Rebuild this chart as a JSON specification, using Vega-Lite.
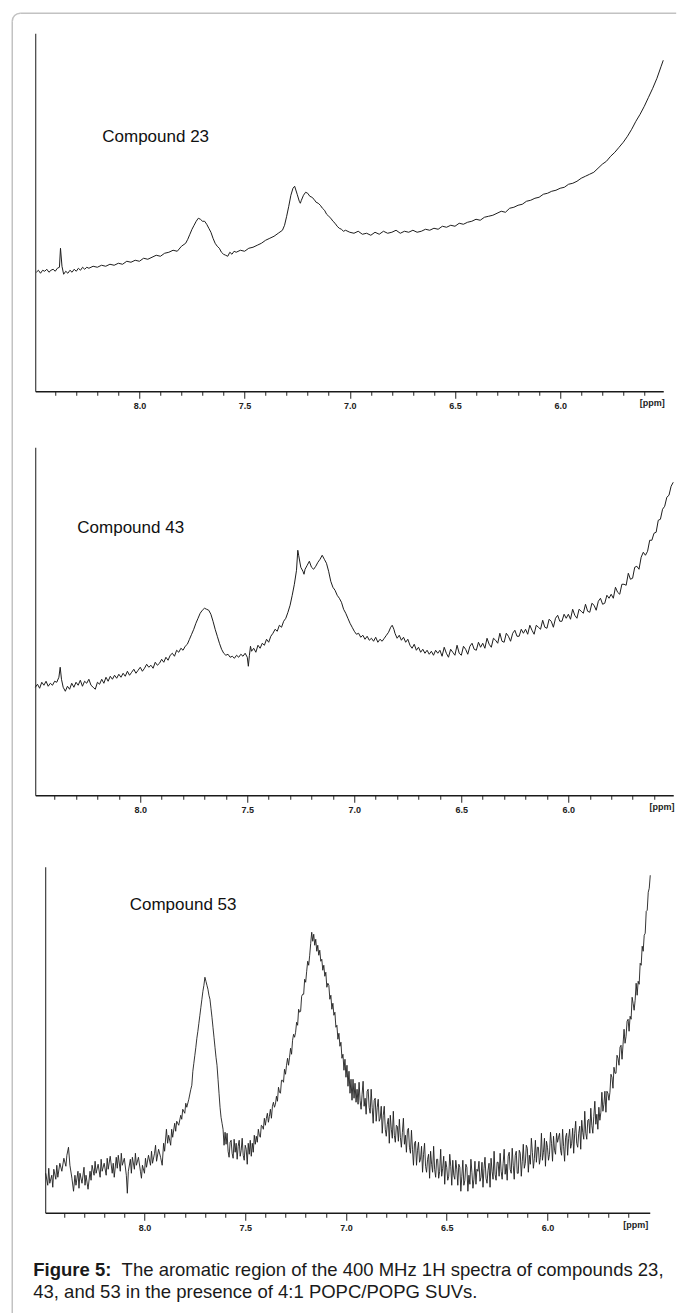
{
"$schema": "https://vega.github.io/schema/vega-lite/v6.json",
"background": "white",
"padding": {"left": 11.25, "top": 12.25, "right": 0, "bottom": 0},
"spacing": 56,
"bounds": "flush",
"config": {"view": {"stroke": null}, "font": "Liberation Sans"},
"datasets": {
"one": [{}],
"s23": [
{"p":8.49,"i":119},{"p":8.48,"i":121},{"p":8.47,"i":118},{"p":8.46,"i":121},{"p":8.45,"i":120},{"p":8.44,"i":122},{"p":8.43,"i":119},{"p":8.42,"i":121},{"p":8.41,"i":122},{"p":8.40,"i":120},{"p":8.39,"i":123},{"p":8.38,"i":124},{"p":8.375,"i":143},{"p":8.368,"i":125},{"p":8.36,"i":117},{"p":8.35,"i":120},{"p":8.34,"i":118},{"p":8.33,"i":121},{"p":8.32,"i":119},{"p":8.31,"i":122},{"p":8.30,"i":120},{"p":8.29,"i":123},{"p":8.28,"i":121},{"p":8.27,"i":124},{"p":8.26,"i":122},{"p":8.25,"i":124},{"p":8.24,"i":123},{"p":8.22,"i":125},{"p":8.20,"i":124},{"p":8.18,"i":126},{"p":8.16,"i":125},{"p":8.14,"i":127},{"p":8.12,"i":126},{"p":8.10,"i":128},{"p":8.08,"i":127},{"p":8.06,"i":130},{"p":8.04,"i":129},{"p":8.02,"i":131},{"p":8.00,"i":130},{"p":7.98,"i":133},{"p":7.96,"i":132},{"p":7.94,"i":134},{"p":7.92,"i":136},{"p":7.90,"i":135},{"p":7.88,"i":138},{"p":7.86,"i":139},{"p":7.84,"i":141},{"p":7.82,"i":140},{"p":7.80,"i":145},{"p":7.78,"i":148},{"p":7.77,"i":152},{"p":7.76,"i":157},{"p":7.75,"i":162},{"p":7.74,"i":166},{"p":7.73,"i":170},{"p":7.72,"i":173},{"p":7.71,"i":172},{"p":7.70,"i":170},{"p":7.69,"i":170},{"p":7.68,"i":167},{"p":7.67,"i":163},{"p":7.66,"i":159},{"p":7.65,"i":153},{"p":7.64,"i":148},{"p":7.63,"i":145},{"p":7.62,"i":143},{"p":7.61,"i":139},{"p":7.60,"i":137},{"p":7.59,"i":136},{"p":7.58,"i":135},{"p":7.57,"i":139},{"p":7.56,"i":137},{"p":7.55,"i":140},{"p":7.54,"i":139},{"p":7.52,"i":141},{"p":7.50,"i":140},{"p":7.48,"i":143},{"p":7.46,"i":144},{"p":7.44,"i":146},{"p":7.42,"i":148},{"p":7.40,"i":151},{"p":7.38,"i":153},{"p":7.36,"i":155},{"p":7.34,"i":158},{"p":7.32,"i":161},{"p":7.31,"i":166},{"p":7.30,"i":175},{"p":7.29,"i":185},{"p":7.28,"i":196},{"p":7.27,"i":203},{"p":7.262,"i":205},{"p":7.25,"i":197},{"p":7.24,"i":190},{"p":7.235,"i":188},{"p":7.23,"i":191},{"p":7.22,"i":196},{"p":7.21,"i":199},{"p":7.20,"i":198},{"p":7.19,"i":195},{"p":7.18,"i":194},{"p":7.17,"i":192},{"p":7.16,"i":189},{"p":7.15,"i":188},{"p":7.14,"i":186},{"p":7.13,"i":183},{"p":7.12,"i":181},{"p":7.11,"i":177},{"p":7.10,"i":175},{"p":7.09,"i":173},{"p":7.08,"i":170},{"p":7.07,"i":168},{"p":7.06,"i":165},{"p":7.05,"i":163},{"p":7.04,"i":162},{"p":7.03,"i":160},{"p":7.02,"i":161},{"p":7.00,"i":159},{"p":6.98,"i":158},{"p":6.96,"i":160},{"p":6.94,"i":157},{"p":6.92,"i":158},{"p":6.90,"i":156},{"p":6.88,"i":159},{"p":6.86,"i":157},{"p":6.84,"i":160},{"p":6.82,"i":158},{"p":6.80,"i":159},{"p":6.78,"i":161},{"p":6.76,"i":158},{"p":6.74,"i":160},{"p":6.72,"i":159},{"p":6.70,"i":161},{"p":6.68,"i":159},{"p":6.66,"i":160},{"p":6.64,"i":162},{"p":6.62,"i":161},{"p":6.60,"i":163},{"p":6.58,"i":162},{"p":6.56,"i":165},{"p":6.54,"i":164},{"p":6.52,"i":166},{"p":6.50,"i":165},{"p":6.48,"i":168},{"p":6.46,"i":167},{"p":6.44,"i":169},{"p":6.42,"i":170},{"p":6.40,"i":172},{"p":6.38,"i":171},{"p":6.36,"i":174},{"p":6.34,"i":175},{"p":6.32,"i":176},{"p":6.30,"i":178},{"p":6.28,"i":180},{"p":6.26,"i":179},{"p":6.24,"i":183},{"p":6.22,"i":184},{"p":6.20,"i":186},{"p":6.18,"i":187},{"p":6.16,"i":190},{"p":6.14,"i":191},{"p":6.12,"i":193},{"p":6.10,"i":194},{"p":6.08,"i":197},{"p":6.06,"i":198},{"p":6.04,"i":200},{"p":6.02,"i":201},{"p":6.00,"i":203},{"p":5.98,"i":204},{"p":5.96,"i":207},{"p":5.94,"i":208},{"p":5.92,"i":210},{"p":5.90,"i":213},{"p":5.88,"i":215},{"p":5.86,"i":217},{"p":5.84,"i":219},{"p":5.82,"i":223},{"p":5.80,"i":227},{"p":5.78,"i":230},{"p":5.76,"i":235},{"p":5.74,"i":239},{"p":5.72,"i":244},{"p":5.70,"i":249},{"p":5.68,"i":255},{"p":5.66,"i":262},{"p":5.64,"i":270},{"p":5.62,"i":277},{"p":5.60,"i":285},{"p":5.58,"i":294},{"p":5.56,"i":303},{"p":5.54,"i":313},{"p":5.52,"i":325},{"p":5.51,"i":331}
],
"s43": [
{"p":8.49,"i":108},{"p":8.48,"i":111},{"p":8.47,"i":107},{"p":8.46,"i":113},{"p":8.45,"i":110},{"p":8.44,"i":114},{"p":8.43,"i":109},{"p":8.42,"i":112},{"p":8.41,"i":110},{"p":8.40,"i":114},{"p":8.39,"i":113},{"p":8.38,"i":118},{"p":8.374,"i":128},{"p":8.368,"i":116},{"p":8.36,"i":108},{"p":8.35,"i":104},{"p":8.34,"i":109},{"p":8.33,"i":106},{"p":8.32,"i":112},{"p":8.31,"i":108},{"p":8.30,"i":113},{"p":8.29,"i":110},{"p":8.28,"i":115},{"p":8.27,"i":109},{"p":8.26,"i":114},{"p":8.25,"i":112},{"p":8.24,"i":116},{"p":8.23,"i":110},{"p":8.22,"i":108},{"p":8.21,"i":106},{"p":8.20,"i":113},{"p":8.19,"i":111},{"p":8.18,"i":116},{"p":8.17,"i":112},{"p":8.16,"i":118},{"p":8.15,"i":114},{"p":8.14,"i":119},{"p":8.13,"i":116},{"p":8.12,"i":120},{"p":8.11,"i":117},{"p":8.10,"i":121},{"p":8.09,"i":118},{"p":8.08,"i":122},{"p":8.07,"i":119},{"p":8.06,"i":124},{"p":8.05,"i":120},{"p":8.04,"i":123},{"p":8.03,"i":126},{"p":8.02,"i":122},{"p":8.01,"i":125},{"p":8.00,"i":128},{"p":7.99,"i":124},{"p":7.98,"i":127},{"p":7.97,"i":131},{"p":7.96,"i":128},{"p":7.95,"i":130},{"p":7.94,"i":127},{"p":7.93,"i":133},{"p":7.92,"i":130},{"p":7.91,"i":132},{"p":7.90,"i":136},{"p":7.89,"i":133},{"p":7.88,"i":138},{"p":7.87,"i":135},{"p":7.86,"i":140},{"p":7.85,"i":142},{"p":7.84,"i":139},{"p":7.83,"i":145},{"p":7.82,"i":143},{"p":7.81,"i":147},{"p":7.80,"i":145},{"p":7.79,"i":149},{"p":7.78,"i":151},{"p":7.77,"i":156},{"p":7.76,"i":161},{"p":7.75,"i":166},{"p":7.74,"i":172},{"p":7.73,"i":177},{"p":7.72,"i":182},{"p":7.71,"i":185},{"p":7.70,"i":187},{"p":7.69,"i":186},{"p":7.68,"i":185},{"p":7.67,"i":181},{"p":7.66,"i":174},{"p":7.65,"i":166},{"p":7.64,"i":159},{"p":7.63,"i":152},{"p":7.62,"i":146},{"p":7.61,"i":142},{"p":7.60,"i":140},{"p":7.59,"i":141},{"p":7.58,"i":138},{"p":7.57,"i":139},{"p":7.56,"i":137},{"p":7.55,"i":140},{"p":7.54,"i":138},{"p":7.53,"i":141},{"p":7.52,"i":139},{"p":7.51,"i":142},{"p":7.50,"i":138},{"p":7.495,"i":129},{"p":7.49,"i":140},{"p":7.485,"i":149},{"p":7.48,"i":144},{"p":7.47,"i":147},{"p":7.46,"i":143},{"p":7.45,"i":150},{"p":7.44,"i":147},{"p":7.43,"i":152},{"p":7.42,"i":150},{"p":7.41,"i":156},{"p":7.40,"i":153},{"p":7.39,"i":159},{"p":7.38,"i":162},{"p":7.37,"i":166},{"p":7.36,"i":164},{"p":7.35,"i":170},{"p":7.34,"i":168},{"p":7.33,"i":174},{"p":7.32,"i":177},{"p":7.31,"i":183},{"p":7.30,"i":190},{"p":7.29,"i":200},{"p":7.28,"i":211},{"p":7.27,"i":225},{"p":7.264,"i":245},{"p":7.26,"i":240},{"p":7.25,"i":228},{"p":7.24,"i":224},{"p":7.235,"i":221},{"p":7.23,"i":226},{"p":7.22,"i":230},{"p":7.21,"i":234},{"p":7.20,"i":228},{"p":7.19,"i":226},{"p":7.18,"i":229},{"p":7.17,"i":233},{"p":7.16,"i":236},{"p":7.15,"i":240},{"p":7.14,"i":236},{"p":7.13,"i":232},{"p":7.12,"i":224},{"p":7.11,"i":214},{"p":7.10,"i":208},{"p":7.09,"i":205},{"p":7.08,"i":200},{"p":7.07,"i":197},{"p":7.06,"i":193},{"p":7.05,"i":186},{"p":7.04,"i":182},{"p":7.03,"i":177},{"p":7.02,"i":172},{"p":7.01,"i":168},{"p":7.00,"i":164},{"p":6.99,"i":161},{"p":6.98,"i":162},{"p":6.97,"i":158},{"p":6.96,"i":160},{"p":6.95,"i":156},{"p":6.94,"i":159},{"p":6.93,"i":155},{"p":6.92,"i":157},{"p":6.91,"i":154},{"p":6.90,"i":158},{"p":6.89,"i":153},{"p":6.88,"i":156},{"p":6.87,"i":154},{"p":6.86,"i":157},{"p":6.85,"i":160},{"p":6.84,"i":163},{"p":6.83,"i":168},{"p":6.823,"i":170},{"p":6.815,"i":166},{"p":6.81,"i":162},{"p":6.80,"i":157},{"p":6.79,"i":160},{"p":6.78,"i":155},{"p":6.77,"i":158},{"p":6.76,"i":153},{"p":6.75,"i":156},{"p":6.74,"i":150},{"p":6.73,"i":147},{"p":6.72,"i":151},{"p":6.71,"i":145},{"p":6.70,"i":148},{"p":6.69,"i":143},{"p":6.68,"i":146},{"p":6.67,"i":142},{"p":6.66,"i":145},{"p":6.65,"i":141},{"p":6.64,"i":144},{"p":6.63,"i":140},{"p":6.62,"i":145},{"p":6.61,"i":142},
{"p":6.60,"i":145},{"p":6.59,"i":139},{"p":6.58,"i":148},{"p":6.57,"i":142},{"p":6.56,"i":138},{"p":6.55,"i":146},{"p":6.54,"i":143},{"p":6.53,"i":140},{"p":6.52,"i":150},{"p":6.51,"i":142},{"p":6.50,"i":140},{"p":6.49,"i":149},{"p":6.48,"i":146},{"p":6.47,"i":141},{"p":6.46,"i":149},{"p":6.45,"i":152},{"p":6.44,"i":146},{"p":6.43,"i":145},{"p":6.42,"i":153},{"p":6.41,"i":148},{"p":6.40,"i":152},{"p":6.39,"i":147},{"p":6.38,"i":157},{"p":6.37,"i":151},{"p":6.36,"i":148},{"p":6.35,"i":157},{"p":6.34,"i":155},{"p":6.33,"i":152},{"p":6.32,"i":162},{"p":6.31,"i":154},{"p":6.30,"i":153},{"p":6.29,"i":162},{"p":6.28,"i":159},{"p":6.27,"i":154},{"p":6.26,"i":162},{"p":6.25,"i":165},{"p":6.24,"i":159},{"p":6.23,"i":159},{"p":6.22,"i":166},{"p":6.21,"i":162},{"p":6.20,"i":166},{"p":6.19,"i":161},{"p":6.18,"i":170},{"p":6.17,"i":165},{"p":6.16,"i":161},{"p":6.15,"i":170},{"p":6.14,"i":168},{"p":6.13,"i":166},{"p":6.12,"i":175},{"p":6.11,"i":168},{"p":6.10,"i":167},{"p":6.09,"i":176},{"p":6.08,"i":174},{"p":6.07,"i":168},{"p":6.06,"i":177},{"p":6.05,"i":180},{"p":6.04,"i":174},{"p":6.03,"i":174},{"p":6.02,"i":181},{"p":6.01,"i":177},{"p":6.00,"i":181},{"p":5.99,"i":176},{"p":5.98,"i":186},{"p":5.97,"i":180},{"p":5.96,"i":177},{"p":5.95,"i":186},{"p":5.94,"i":184},{"p":5.93,"i":182},{"p":5.92,"i":191},{"p":5.91,"i":184},{"p":5.90,"i":183},{"p":5.89,"i":192},{"p":5.88,"i":190},{"p":5.87,"i":185},{"p":5.86,"i":194},{"p":5.85,"i":197},{"p":5.84,"i":191},{"p":5.83,"i":192},{"p":5.82,"i":200},{"p":5.81,"i":197},{"p":5.80,"i":201},{"p":5.79,"i":197},{"p":5.78,"i":208},{"p":5.77,"i":203},{"p":5.76,"i":201},{"p":5.75,"i":211},{"p":5.74,"i":211},{"p":5.73,"i":210},{"p":5.72,"i":222},{"p":5.71,"i":216},{"p":5.70,"i":217},{"p":5.69,"i":228},{"p":5.68,"i":229},{"p":5.67,"i":226},{"p":5.66,"i":238},{"p":5.65,"i":243},{"p":5.64,"i":240},{"p":5.63,"i":244},{"p":5.62,"i":255},{"p":5.61,"i":255},{"p":5.60,"i":262},{"p":5.59,"i":263},{"p":5.58,"i":275},{"p":5.57,"i":276},{"p":5.56,"i":286},{"p":5.55,"i":289},{"p":5.54,"i":298},{"p":5.53,"i":300},{"p":5.52,"i":309},{"p":5.51,"i":313}
],
"s53": [
{"p":8.49,"i":40},{"p":8.48,"i":28},{"p":8.475,"i":45},{"p":8.47,"i":30},{"p":8.46,"i":38},{"p":8.455,"i":26},{"p":8.45,"i":44},{"p":8.44,"i":34},{"p":8.435,"i":48},{"p":8.43,"i":36},{"p":8.42,"i":50},{"p":8.41,"i":42},{"p":8.40,"i":55},{"p":8.39,"i":47},{"p":8.385,"i":58},{"p":8.377,"i":66},{"p":8.37,"i":48},{"p":8.36,"i":35},{"p":8.352,"i":22},{"p":8.345,"i":38},{"p":8.34,"i":28},{"p":8.33,"i":42},{"p":8.325,"i":25},{"p":8.32,"i":40},{"p":8.31,"i":30},{"p":8.30,"i":46},{"p":8.295,"i":28},{"p":8.29,"i":38},{"p":8.28,"i":24},{"p":8.27,"i":42},{"p":8.265,"i":33},{"p":8.26,"i":48},{"p":8.25,"i":38},{"p":8.245,"i":52},{"p":8.24,"i":40},{"p":8.23,"i":49},{"p":8.22,"i":36},{"p":8.215,"i":54},{"p":8.21,"i":42},{"p":8.20,"i":50},{"p":8.19,"i":38},{"p":8.185,"i":55},{"p":8.18,"i":44},{"p":8.17,"i":57},{"p":8.16,"i":40},{"p":8.155,"i":50},{"p":8.15,"i":36},{"p":8.14,"i":56},{"p":8.135,"i":45},{"p":8.13,"i":58},{"p":8.12,"i":42},{"p":8.115,"i":60},{"p":8.11,"i":48},{"p":8.10,"i":55},{"p":8.09,"i":38},{"p":8.085,"i":20},{"p":8.08,"i":42},{"p":8.07,"i":54},{"p":8.065,"i":40},{"p":8.06,"i":56},{"p":8.05,"i":44},{"p":8.045,"i":60},{"p":8.04,"i":48},{"p":8.03,"i":56},{"p":8.02,"i":42},{"p":8.015,"i":35},{"p":8.01,"i":48},{"p":8.00,"i":40},{"p":7.995,"i":55},{"p":7.99,"i":46},{"p":7.98,"i":58},{"p":7.97,"i":48},{"p":7.965,"i":62},{"p":7.96,"i":50},{"p":7.95,"i":60},{"p":7.945,"i":68},{"p":7.94,"i":52},{"p":7.93,"i":64},{"p":7.92,"i":56},{"p":7.912,"i":48},{"p":7.905,"i":70},{"p":7.90,"i":62},{"p":7.891,"i":84},{"p":7.885,"i":70},{"p":7.88,"i":78},{"p":7.87,"i":68},{"p":7.865,"i":84},{"p":7.86,"i":76},{"p":7.85,"i":90},{"p":7.845,"i":82},{"p":7.84,"i":92},{"p":7.83,"i":88},{"p":7.82,"i":98},{"p":7.815,"i":94},{"p":7.81,"i":104},{"p":7.80,"i":100},{"p":7.795,"i":110},{"p":7.79,"i":106},{"p":7.78,"i":114},{"p":7.77,"i":124},{"p":7.765,"i":128},{"p":7.76,"i":142},{"p":7.755,"i":150},{"p":7.75,"i":158},{"p":7.745,"i":166},{"p":7.74,"i":175},{"p":7.735,"i":182},{"p":7.73,"i":190},{"p":7.725,"i":198},{"p":7.72,"i":206},{"p":7.715,"i":214},{"p":7.71,"i":222},{"p":7.705,"i":228},{"p":7.70,"i":236},{"p":7.695,"i":232},{"p":7.69,"i":228},{"p":7.685,"i":224},{"p":7.68,"i":218},{"p":7.675,"i":214},{"p":7.67,"i":205},{"p":7.665,"i":196},{"p":7.66,"i":186},{"p":7.655,"i":176},{"p":7.65,"i":166},{"p":7.645,"i":156},{"p":7.64,"i":148},{"p":7.635,"i":134},{"p":7.63,"i":120},{"p":7.625,"i":106},{"p":7.62,"i":96},{"p":7.615,"i":90},
{"p":7.61,"i":84},{"p":7.605,"i":68},{"p":7.60,"i":81},{"p":7.595,"i":69},{"p":7.59,"i":80},{"p":7.585,"i":62},{"p":7.58,"i":56},{"p":7.575,"i":71},{"p":7.57,"i":73},{"p":7.565,"i":60},{"p":7.56,"i":55},{"p":7.555,"i":74},{"p":7.55,"i":61},{"p":7.545,"i":70},{"p":7.54,"i":54},{"p":7.535,"i":67},{"p":7.53,"i":73},{"p":7.525,"i":57},{"p":7.52,"i":63},{"p":7.515,"i":75},{"p":7.51,"i":58},{"p":7.505,"i":53},{"p":7.50,"i":68},{"p":7.495,"i":64},{"p":7.49,"i":49},{"p":7.485,"i":70},{"p":7.48,"i":59},{"p":7.475,"i":73},{"p":7.47,"i":57},{"p":7.465,"i":70},{"p":7.46,"i":61},{"p":7.455,"i":78},{"p":7.45,"i":69},
{"p":7.445,"i":77},{"p":7.44,"i":71},{"p":7.435,"i":84},{"p":7.43,"i":78},{"p":7.425,"i":76},{"p":7.42,"i":88},{"p":7.415,"i":87},{"p":7.41,"i":84},{"p":7.405,"i":95},{"p":7.40,"i":88},{"p":7.395,"i":95},{"p":7.39,"i":100},{"p":7.385,"i":91},{"p":7.38,"i":97},{"p":7.375,"i":104},{"p":7.37,"i":95},{"p":7.365,"i":107},{"p":7.36,"i":111},{"p":7.355,"i":106},{"p":7.35,"i":109},{"p":7.345,"i":117},{"p":7.34,"i":112},{"p":7.335,"i":126},{"p":7.33,"i":121},{"p":7.325,"i":120},{"p":7.32,"i":133},{"p":7.315,"i":133},{"p":7.31,"i":131},{"p":7.305,"i":144},{"p":7.30,"i":139},{"p":7.295,"i":148},{"p":7.29,"i":155},{"p":7.285,"i":148},{"p":7.28,"i":156},{"p":7.275,"i":165},{"p":7.27,"i":159},{"p":7.265,"i":173},{"p":7.26,"i":179},{"p":7.255,"i":176},{"p":7.25,"i":181},{"p":7.245,"i":191},{"p":7.24,"i":188},{"p":7.235,"i":204},{"p":7.23,"i":201},{"p":7.225,"i":202},{"p":7.22,"i":217},{"p":7.215,"i":219},{"p":7.21,"i":219},{"p":7.205,"i":234},{"p":7.20,"i":231},{"p":7.195,"i":242},{"p":7.19,"i":252},{"p":7.185,"i":248},{"p":7.18,"i":258},{"p":7.175,"i":270},{"p":7.17,"i":281},{"p":7.165,"i":272},{"p":7.16,"i":279},{"p":7.155,"i":268},{"p":7.15,"i":274},{"p":7.145,"i":262},{"p":7.14,"i":268},{"p":7.135,"i":258},{"p":7.13,"i":263},{"p":7.125,"i":252},{"p":7.12,"i":254},{"p":7.115,"i":243},{"p":7.11,"i":248},{"p":7.105,"i":237},{"p":7.10,"i":241},{"p":7.095,"i":226},{"p":7.09,"i":230},{"p":7.085,"i":228},{"p":7.08,"i":214},{"p":7.075,"i":218},{"p":7.07,"i":204},{"p":7.065,"i":210},{"p":7.06,"i":198},{"p":7.055,"i":201},{"p":7.05,"i":186},{"p":7.045,"i":188},{"p":7.04,"i":174},{"p":7.035,"i":180},{"p":7.03,"i":167},{"p":7.025,"i":171},{"p":7.02,"i":155},{"p":7.015,"i":159},{"p":7.01,"i":143},{"p":7.005,"i":154},{"p":7.00,"i":136},{"p":6.995,"i":148},{"p":6.99,"i":127},{"p":6.985,"i":142},{"p":6.98,"i":120},{"p":6.975,"i":134},{"p":6.97,"i":113},{"p":6.965,"i":134},{"p":6.96,"i":115},{"p":6.955,"i":130},{"p":6.95,"i":111},
{"p":6.945,"i":124},{"p":6.94,"i":109},{"p":6.935,"i":131},{"p":6.93,"i":113},{"p":6.925,"i":104},{"p":6.92,"i":119},{"p":6.915,"i":132},{"p":6.91,"i":107},{"p":6.905,"i":115},{"p":6.90,"i":99},{"p":6.895,"i":122},{"p":6.89,"i":124},{"p":6.885,"i":106},{"p":6.88,"i":100},{"p":6.875,"i":124},{"p":6.87,"i":106},{"p":6.865,"i":90},{"p":6.86,"i":113},{"p":6.855,"i":115},{"p":6.85,"i":92},{"p":6.845,"i":106},{"p":6.84,"i":114},{"p":6.835,"i":92},{"p":6.83,"i":95},{"p":6.825,"i":107},{"p":6.82,"i":80},{"p":6.815,"i":98},{"p":6.81,"i":107},{"p":6.805,"i":84},{"p":6.80,"i":77},{"p":6.795,"i":89},{"p":6.79,"i":95},{"p":6.785,"i":70},{"p":6.78,"i":98},{"p":6.775,"i":84},{"p":6.77,"i":75},{"p":6.765,"i":102},{"p":6.76,"i":78},{"p":6.755,"i":71},{"p":6.75,"i":88},{"p":6.745,"i":87},{"p":6.74,"i":72},{"p":6.735,"i":94},{"p":6.73,"i":76},{"p":6.725,"i":66},{"p":6.72,"i":81},{"p":6.715,"i":95},{"p":6.71,"i":69},{"p":6.705,"i":78},{"p":6.70,"i":61},{"p":6.695,"i":83},{"p":6.69,"i":85},{"p":6.685,"i":66},{"p":6.68,"i":60},{"p":6.675,"i":83},{"p":6.67,"i":64},{"p":6.665,"i":48},{"p":6.66,"i":70},{"p":6.655,"i":72},{"p":6.65,"i":48},{"p":6.645,"i":63},{"p":6.64,"i":71},{"p":6.635,"i":51},{"p":6.63,"i":54},{"p":6.625,"i":67},{"p":6.62,"i":41},{"p":6.615,"i":59},{"p":6.61,"i":70},{"p":6.605,"i":47},{"p":6.60,"i":41},{"p":6.595,"i":54},{"p":6.59,"i":59},{"p":6.585,"i":35},{"p":6.58,"i":62},{"p":6.575,"i":49},{"p":6.57,"i":41},{"p":6.565,"i":67},{"p":6.56,"i":44},{"p":6.555,"i":36},{"p":6.55,"i":54},{"p":6.545,"i":54},{"p":6.54,"i":35},{"p":6.535,"i":42},{"p":6.53,"i":64},{"p":6.525,"i":37},{"p":6.52,"i":45},{"p":6.515,"i":57},{"p":6.51,"i":29},{"p":6.505,"i":52},{"p":6.50,"i":46},{"p":6.495,"i":33},{"p":6.49,"i":37},{"p":6.485,"i":59},{"p":6.48,"i":47},{"p":6.475,"i":28},{"p":6.47,"i":53},{"p":6.465,"i":38},{"p":6.46,"i":34},{"p":6.455,"i":53},{"p":6.45,"i":44},{"p":6.445,"i":28},{"p":6.44,"i":49},{"p":6.435,"i":46},{"p":6.43,"i":22},{"p":6.425,"i":37},{"p":6.42,"i":53},{"p":6.415,"i":28},{"p":6.41,"i":33},{"p":6.405,"i":49},{"p":6.40,"i":46},{"p":6.395,"i":22},{"p":6.39,"i":38},{"p":6.385,"i":29},{"p":6.38,"i":54},{"p":6.375,"i":41},{"p":6.37,"i":25},{"p":6.365,"i":34},{"p":6.36,"i":52},{"p":6.355,"i":29},{"p":6.35,"i":44},{"p":6.345,"i":42},{"p":6.34,"i":52},{"p":6.335,"i":32},{"p":6.33,"i":36},{"p":6.325,"i":51},{"p":6.32,"i":26},{"p":6.315,"i":45},{"p":6.31,"i":56},{"p":6.305,"i":35},{"p":6.30,"i":30},{"p":6.295,"i":43},{"p":6.29,"i":50},{"p":6.285,"i":26},{"p":6.28,"i":55},{"p":6.275,"i":42},{"p":6.27,"i":34},{"p":6.265,"i":62},{"p":6.26,"i":39},{"p":6.255,"i":33},{"p":6.25,"i":51},{"p":6.245,"i":51},{"p":6.24,"i":37},{"p":6.235,"i":60},{"p":6.23,"i":42},{"p":6.225,"i":34},{"p":6.22,"i":50},{"p":6.215,"i":64},{"p":6.21,"i":39},{"p":6.205,"i":49},{"p":6.20,"i":33},{"p":6.195,"i":57},{"p":6.19,"i":61},{"p":6.185,"i":44},{"p":6.18,"i":40},{"p":6.175,"i":65},{"p":6.17,"i":48},{"p":6.165,"i":34},{"p":6.16,"i":58},{"p":6.155,"i":62},{"p":6.15,"i":40},{"p":6.145,"i":40},{"p":6.14,"i":63},{"p":6.135,"i":60},{"p":6.13,"i":37},{"p":6.125,"i":52},{"p":6.12,"i":69},{"p":6.115,"i":45},{"p":6.11,"i":50},{"p":6.105,"i":68},{"p":6.10,"i":65},{"p":6.095,"i":41},{"p":6.09,"i":58},{"p":6.085,"i":49},{"p":6.08,"i":75},{"p":6.075,"i":61},{"p":6.07,"i":45},{"p":6.065,"i":55},{"p":6.06,"i":73},{"p":6.055,"i":51},{"p":6.05,"i":66},{"p":6.045,"i":66},{"p":6.04,"i":49},{"p":6.035,"i":56},{"p":6.03,"i":80},{"p":6.025,"i":53},{"p":6.02,"i":61},{"p":6.015,"i":75},{"p":6.01,"i":47},{"p":6.005,"i":72},{"p":6.00,"i":66},{"p":5.995,"i":53},{"p":5.99,"i":59},{"p":5.985,"i":81},{"p":5.98,"i":70},{"p":5.975,"i":52},{"p":5.97,"i":77},{"p":5.965,"i":63},{"p":5.96,"i":59},{"p":5.955,"i":80},{"p":5.95,"i":71},{"p":5.945,"i":76},{"p":5.94,"i":80},{"p":5.935,"i":63},{"p":5.93,"i":58},{"p":5.925,"i":84},{"p":5.92,"i":67},{"p":5.915,"i":52},{"p":5.91,"i":76},{"p":5.905,"i":80},{"p":5.90,"i":58},{"p":5.895,"i":75},{"p":5.89,"i":84},{"p":5.885,"i":65},{"p":5.88,"i":70},{"p":5.875,"i":85},{"p":5.87,"i":60},{"p":5.865,"i":80},{"p":5.86,"i":92},{"p":5.855,"i":70},{"p":5.85,"i":66},{"p":5.845,"i":80},{"p":5.84,"i":87},{"p":5.835,"i":64},{"p":5.83,"i":93},{"p":5.825,"i":81},{"p":5.82,"i":74},{"p":5.815,"i":102},{"p":5.81,"i":80},{"p":5.805,"i":74},{"p":5.80,"i":93},{"p":5.795,"i":94},{"p":5.79,"i":80},{"p":5.785,"i":105},{"p":5.78,"i":88},{"p":5.775,"i":80},{"p":5.77,"i":97},{"p":5.765,"i":112},{"p":5.76,"i":89},{"p":5.755,"i":99},{"p":5.75,"i":84},{"p":5.745,"i":106},{"p":5.74,"i":93},{"p":5.735,"i":101},{"p":5.73,"i":121},{"p":5.725,"i":102},{"p":5.72,"i":109},{"p":5.715,"i":122},{"p":5.71,"i":101},{"p":5.705,"i":122},{"p":5.70,"i":120},{"p":5.695,"i":113},{"p":5.69,"i":121},{"p":5.685,"i":139},{"p":5.68,"i":136},{"p":5.675,"i":125},{"p":5.67,"i":146},{"p":5.665,"i":140},{"p":5.66,"i":140},{"p":5.655,"i":158},{"p":5.65,"i":155},{"p":5.645,"i":148},{"p":5.64,"i":166},{"p":5.635,"i":168},{"p":5.63,"i":154},{"p":5.625,"i":169},{"p":5.62,"i":184},{"p":5.615,"i":170},{"p":5.61,"i":177},{"p":5.605,"i":192},{"p":5.60,"i":194},{"p":5.595,"i":182},{"p":5.59,"i":197},{"p":5.585,"i":194},{"p":5.58,"i":216},{"p":5.575,"i":210},{"p":5.57,"i":203},{"p":5.565,"i":213},{"p":5.56,"i":230},{"p":5.555,"i":218},{"p":5.55,"i":232},{"p":5.545,"i":229},{"p":5.54,"i":250},{"p":5.535,"i":248},{"p":5.53,"i":267},{"p":5.525,"i":262},{"p":5.52,"i":278},{"p":5.515,"i":280},{"p":5.51,"i":302},{"p":5.505,"i":303},{"p":5.50,"i":321},{"p":5.495,"i":325},{"p":5.49,"i":338}
]
},
"vconcat": [
{
"width": 628, "height": 358,
"layer": [
{"data": {"name": "s23"}, "mark": {"type": "line", "color": "#1e1e1e", "strokeWidth": 1},
 "encoding": {
  "x": {"field": "p", "type": "quantitative", "scale": {"domain": [8.495, 5.51], "nice": false, "zero": false},
   "axis": {"title": null, "grid": false, "tickCount": 100, "values": [8.4,8.3,8.2,8.1,8.0,7.9,7.8,7.7,7.6,7.5,7.4,7.3,7.2,7.1,7.0,6.9,6.8,6.7,6.6,6.5,6.4,6.3,6.2,6.1,6.0,5.9,5.8,5.7,5.6,5.565],
    "labelExpr": "abs(datum.value*2 - round(datum.value*2)) < 0.001 ? format(datum.value, '.1f') : (datum.value < 5.58 ? '[ppm]' : '')",
    "tickSize": {"condition": {"test": "abs(datum.value*2 - round(datum.value*2)) < 0.001", "value": 7}, "value": 4},
    "tickOpacity": {"condition": {"test": "datum.value < 5.58", "value": 0}, "value": 1},
    "tickColor": "#222", "tickWidth": 1, "domainColor": "#1a1a1a", "domainWidth": 1.3,
    "labelFont": "Liberation Sans", "labelFontWeight": "bold", "labelFontSize": 9, "labelColor": "#222",
    "labelPadding": 3, "labelOverlap": false, "labelFlush": false, "labelBound": false}},
  "y": {"field": "i", "type": "quantitative", "scale": {"domain": [0, 358], "nice": false, "zero": false},
   "axis": {"title": null, "grid": false, "ticks": false, "labels": false, "domainColor": "#1a1a1a", "domainWidth": 1}}
 }},
{"data": {"name": "one"}, "mark": {"type": "text", "align": "left", "baseline": "alphabetic", "fontSize": 17, "font": "Liberation Sans", "color": "#111"},
 "encoding": {"x": {"datum": 8.1766}, "y": {"datum": 249}, "text": {"value": "Compound 23"}}},
{"data": {"name": "one"}, "mark": {"type": "rule", "color": "#c2c2c2", "strokeWidth": 1.5},
 "encoding": {"x": {"datum": 8.6043}, "y": {"datum": 370}, "y2": {"datum": -922}}},
{"data": {"name": "one"}, "mark": {"type": "rule", "color": "#c2c2c2", "strokeWidth": 1.5},
 "encoding": {"x": {"datum": 8.5663}, "x2": {"datum": 5.4485}, "y": {"datum": 378}}},
{"data": {"name": "one"}, "mark": {"type": "arc", "innerRadius": 7.25, "outerRadius": 8.75, "color": "#c2c2c2"},
 "encoding": {"x": {"datum": 8.5663}, "y": {"datum": 370}, "theta": {"value": 4.7124}, "theta2": {"value": 6.2832}}}
]
},
{
"width": 638, "height": 348,
"layer": [
{"data": {"name": "s43"}, "mark": {"type": "line", "color": "#1e1e1e", "strokeWidth": 1},
 "encoding": {
  "x": {"field": "p", "type": "quantitative", "scale": {"domain": [8.4905, 5.51], "nice": false, "zero": false},
   "axis": {"title": null, "grid": false, "tickCount": 100, "values": [8.4,8.3,8.2,8.1,8.0,7.9,7.8,7.7,7.6,7.5,7.4,7.3,7.2,7.1,7.0,6.9,6.8,6.7,6.6,6.5,6.4,6.3,6.2,6.1,6.0,5.9,5.8,5.7,5.6,5.565],
    "labelExpr": "abs(datum.value*2 - round(datum.value*2)) < 0.001 ? format(datum.value, '.1f') : (datum.value < 5.58 ? '[ppm]' : '')",
    "tickSize": {"condition": {"test": "abs(datum.value*2 - round(datum.value*2)) < 0.001", "value": 7}, "value": 4},
    "tickOpacity": {"condition": {"test": "datum.value < 5.58", "value": 0}, "value": 1},
    "tickColor": "#222", "tickWidth": 1, "domainColor": "#1a1a1a", "domainWidth": 1.3,
    "labelFont": "Liberation Sans", "labelFontWeight": "bold", "labelFontSize": 9, "labelColor": "#222",
    "labelPadding": 3, "labelOverlap": false, "labelFlush": false, "labelBound": false}},
  "y": {"field": "i", "type": "quantitative", "scale": {"domain": [0, 348], "nice": false, "zero": false},
   "axis": {"title": null, "grid": false, "ticks": false, "labels": false, "domainColor": "#1a1a1a", "domainWidth": 1}}
 }},
{"data": {"name": "one"}, "mark": {"type": "text", "align": "left", "baseline": "alphabetic", "fontSize": 17, "font": "Liberation Sans", "color": "#111"},
 "encoding": {"x": {"datum": 8.2941}, "y": {"datum": 262}, "text": {"value": "Compound 43"}}}
]
},
{
"width": 615, "height": 362,
"layer": [
{"data": {"name": "s53"}, "mark": {"type": "line", "color": "#1e1e1e", "strokeWidth": 0.9},
 "encoding": {
  "x": {"field": "p", "type": "quantitative", "scale": {"domain": [8.542, 5.49], "nice": false, "zero": false},
   "axis": {"title": null, "grid": false, "domain": false, "tickCount": 100, "values": [8.4,8.3,8.2,8.1,8.0,7.9,7.8,7.7,7.6,7.5,7.4,7.3,7.2,7.1,7.0,6.9,6.8,6.7,6.6,6.5,6.4,6.3,6.2,6.1,6.0,5.9,5.8,5.7,5.6,5.565],
    "labelExpr": "abs(datum.value*2 - round(datum.value*2)) < 0.001 ? format(datum.value, '.1f') : (datum.value < 5.58 ? '[ppm]' : '')",
    "tickSize": {"condition": {"test": "abs(datum.value*2 - round(datum.value*2)) < 0.001", "value": 7}, "value": 4},
    "tickOpacity": {"condition": {"test": "datum.value < 5.58", "value": 0}, "value": 1},
    "tickColor": "#222", "tickWidth": 1,
    "labelFont": "Liberation Sans", "labelFontWeight": "bold", "labelFontSize": 9, "labelColor": "#222",
    "labelPadding": 3, "labelOverlap": false, "labelFlush": false, "labelBound": false}},
  "y": {"field": "i", "type": "quantitative", "scale": {"domain": [0, 362], "nice": false, "zero": false}, "axis": null}
 }},
{"data": {"name": "one"}, "mark": {"type": "rule", "color": "#1a1a1a", "strokeWidth": 1},
 "encoding": {"x": {"datum": 8.49}, "y": {"datum": 0}, "y2": {"datum": 346}}},
{"data": {"name": "one"}, "mark": {"type": "rule", "color": "#1a1a1a", "strokeWidth": 1.3},
 "encoding": {"x": {"datum": 8.49}, "x2": {"datum": 5.49}, "y": {"datum": 0}}},
{"data": {"name": "one"}, "mark": {"type": "text", "align": "left", "baseline": "alphabetic", "fontSize": 17, "font": "Liberation Sans", "color": "#111"},
 "encoding": {"x": {"datum": 8.0733}, "y": {"datum": 303}, "text": {"value": "Compound 53"}}},
{"data": {"name": "one"}, "mark": {"type": "text", "align": "left", "baseline": "alphabetic", "fontSize": 18.5, "fontWeight": "bold", "font": "Liberation Sans", "color": "#1a1a1a"},
 "encoding": {"x": {"datum": 8.552}, "y": {"datum": -62.7}, "text": {"value": "Figure 5:"}}},
{"data": {"name": "one"}, "mark": {"type": "text", "align": "left", "baseline": "alphabetic", "fontSize": 18.5, "font": "Liberation Sans", "color": "#1a1a1a"},
 "encoding": {"x": {"datum": 8.1134}, "y": {"datum": -62.7}, "text": {"value": "The aromatic region of the 400 MHz 1H spectra of compounds 23,"}}},
{"data": {"name": "one"}, "mark": {"type": "text", "align": "left", "baseline": "alphabetic", "fontSize": 18.5, "font": "Liberation Sans", "color": "#1a1a1a"},
 "encoding": {"x": {"datum": 8.552}, "y": {"datum": -84.7}, "text": {"value": "43, and 53 in the presence of 4:1 POPC/POPG SUVs."}}}
]
}
]
}
